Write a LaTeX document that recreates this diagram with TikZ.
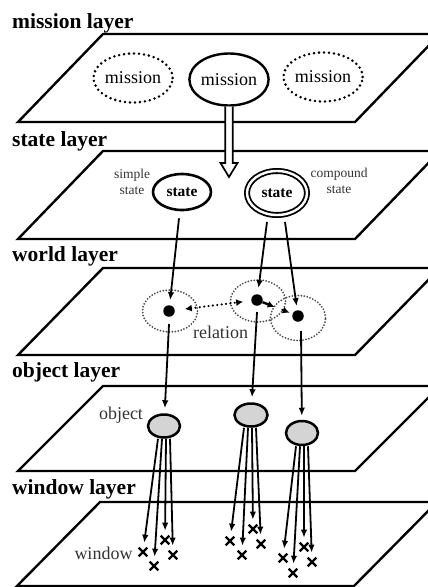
\documentclass[tikz,border=0pt]{standalone}
\usepackage{fontspec}
\setmainfont{Liberation Serif}
\usetikzlibrary{shapes.geometric,shapes.misc,arrows.meta,calc}

\begin{document}
\begin{tikzpicture}[x=1pt,y=-1pt,
  plane/.style={line width=2.4pt,line join=miter},
  layerlabel/.style={anchor=base west,inner sep=0pt,
    font=\fontsize{21.5}{24}\selectfont\bfseries},
  missionnode/.style={ellipse,inner sep=0pt,minimum width=73pt,minimum height=49pt,
    font=\fontsize{18}{20}\selectfont},
  dottedmission/.style={missionnode,draw,line width=2.8pt,line cap=round,
    dash pattern=on 0pt off 5pt},
  solidmission/.style={missionnode,draw,line width=2.4pt,minimum width=75pt,minimum height=52pt},
  statetext/.style={font=\fontsize{15.5}{17}\selectfont\bfseries},
  smalltext/.style={align=center,inner sep=0pt,text=black!80,
    font=\fontsize{13.5}{16}\selectfont},
  labeltext/.style={inner sep=0pt,text=black!80,font=\fontsize{18}{20}\selectfont},
  wcircle/.style={ellipse,draw=black!70,line width=2pt,line cap=round,
    dash pattern=on 0pt off 3pt,minimum width=55pt,minimum height=42pt,inner sep=0pt},
  wdot/.style={circle,fill=black,minimum size=11.5pt,inner sep=0pt},
  obj/.style={ellipse,draw,line width=2.5pt,fill=black!17,inner sep=0pt,
    minimum width=32pt,minimum height=23pt},
  arr/.style={line width=1.8pt,-{Latex[length=8pt,width=6.5pt]}},
  rel/.style={line width=2.4pt,line cap=round,dash pattern=on 0pt off 4.4pt},
  xmark/.style={cross out,draw,line width=2.2pt,minimum size=6.5pt,inner sep=0pt}
]
\useasboundingbox (0,0) rectangle (428,587);
\clip (0,0) rectangle (428,587);

% the five stacked planes and their titles
\foreach \name/\top/\bot/\tl/\bl/\base [count=\i] in
  {mission layer/34/122/103/18/28,
   state layer/151/239/103/18/146,
   world layer/268/355/103/18/261,
   object layer/386/471/103/18/377,
   window layer/502/586/100/17/494}
{
  \draw[plane] (\bl,\bot) -- (\tl,\top) -- (\tl+337,\top) -- (\bl+337,\bot) -- cycle;
  \node[layerlabel] (L\i) at (12,\base) {\name};
}

% mission layer
\node[dottedmission] (m1) at (133,78) {mission};
\node[solidmission] (m2) at (229,79.5) {mission};
\node[dottedmission] (m3) at (323,77) {mission};

% hollow arrow from the chosen mission to the state layer
\coordinate (ht) at (229,177);
\filldraw[fill=white,line width=1.7pt,line join=miter]
  ($(m2.south)+(-3.8,0)$) -- ($(ht)+(-3.8,-14)$) -- ($(ht)+(-8.5,-14)$) -- (ht)
  -- ($(ht)+(8.5,-14)$) -- ($(ht)+(3.8,-14)$) -- ($(m2.south)+(3.8,0)$);

% state layer
\node[ellipse,draw,line width=2.6pt,minimum width=58pt,minimum height=36pt,
  inner sep=0pt,statetext] (s1) at (182,192) {state};
\node[ellipse,draw,line width=1.8pt,double,double distance=2.4pt,minimum width=60pt,
  minimum height=44pt,inner sep=0pt,statetext] (s2) at (277,193) {state};
\node[smalltext] (simpleL) at (132,182) {simple\\state};
\node[smalltext] (compoundL) at (339,181) {compound\\state};

% world layer
\node[wcircle] (wc1) at (170,311) {};
\node[wcircle] (wc2) at (258,301) {};
\node[wcircle,minimum height=45pt] (wc3) at (298,318) {};
\node[wdot] (wd1) at (169,311) {};
\node[wdot] (wd2) at (257,300) {};
\node[wdot] (wd3) at (298,316) {};
\node[labeltext] (relL) at (220.5,332) {relation};

\draw[rel,{Latex[length=7pt,width=7pt]}-{Latex[length=7pt,width=7pt]},
  shorten <=10pt,shorten >=8pt] (wd1) -- (wd2);
\draw[line width=2.4pt,-{Latex[length=7pt,width=7pt]}] (wd2) -- ($(wd2)!0.43!(wd3)$);
\draw[rel,-{Latex[length=7pt,width=7pt]},shorten >=3pt] ($(wd2)!0.62!(wd3)$) -- (wd3);

% state -> world
\draw[arr,shorten >=5pt] ($(s1.south)+(-3,7)$) -- (wd1);
\draw[arr,shorten >=6pt] ($(s2.south)+(-10,6)$) -- (wd2);
\draw[arr,shorten >=4pt] ($(s2.south)+(8,6)$) -- (wd3);

% object layer
\node[obj] (o1) at (164,426) {};
\node[obj,minimum width=33pt] (o2) at (251,415) {};
\node[obj,minimum height=24pt] (o3) at (302,433) {};
\node[labeltext] (objL) at (121,415) {object};

% world -> object
\draw[arr,shorten >=5pt] ($(wd1)+(0,13)$) -- (o1);
\draw[arr,shorten >=5pt] ($(wd2)+(0,12)$) -- (o2);
\draw[arr,shorten >=4pt] ($(wd3)+(3,15)$) -- (o3);

% window layer
\node[labeltext] (winL) at (103.5,553) {window};
\foreach \j/\dx/\px/\py in {1/-6/143/552, 2/-2/154/566, 3/2/165/540, 4/6/173/555} {
  \node[xmark] (ca\j) at (\px,\py) {};
  \draw[arr,shorten >=5pt] ($(o1.south)+(\dx,0)$) -- (ca\j);
}
\foreach \j/\dx/\px/\py in {1/-7/230/541, 2/-3/242/555, 3/1/253/529, 4/5/261/544} {
  \node[xmark] (cb\j) at (\px,\py) {};
  \draw[arr,shorten >=5pt] ($(o2.south)+(\dx,0)$) -- (cb\j);
}
\foreach \j/\dx/\px/\py in {1/-6/283/558, 2/-2/293/573, 3/2/304/547, 4/6/312/562} {
  \node[xmark] (cc\j) at (\px,\py) {};
  \draw[arr,shorten >=5pt] ($(o3.south)+(\dx,0)$) -- (cc\j);
}
\end{tikzpicture}
\end{document}
